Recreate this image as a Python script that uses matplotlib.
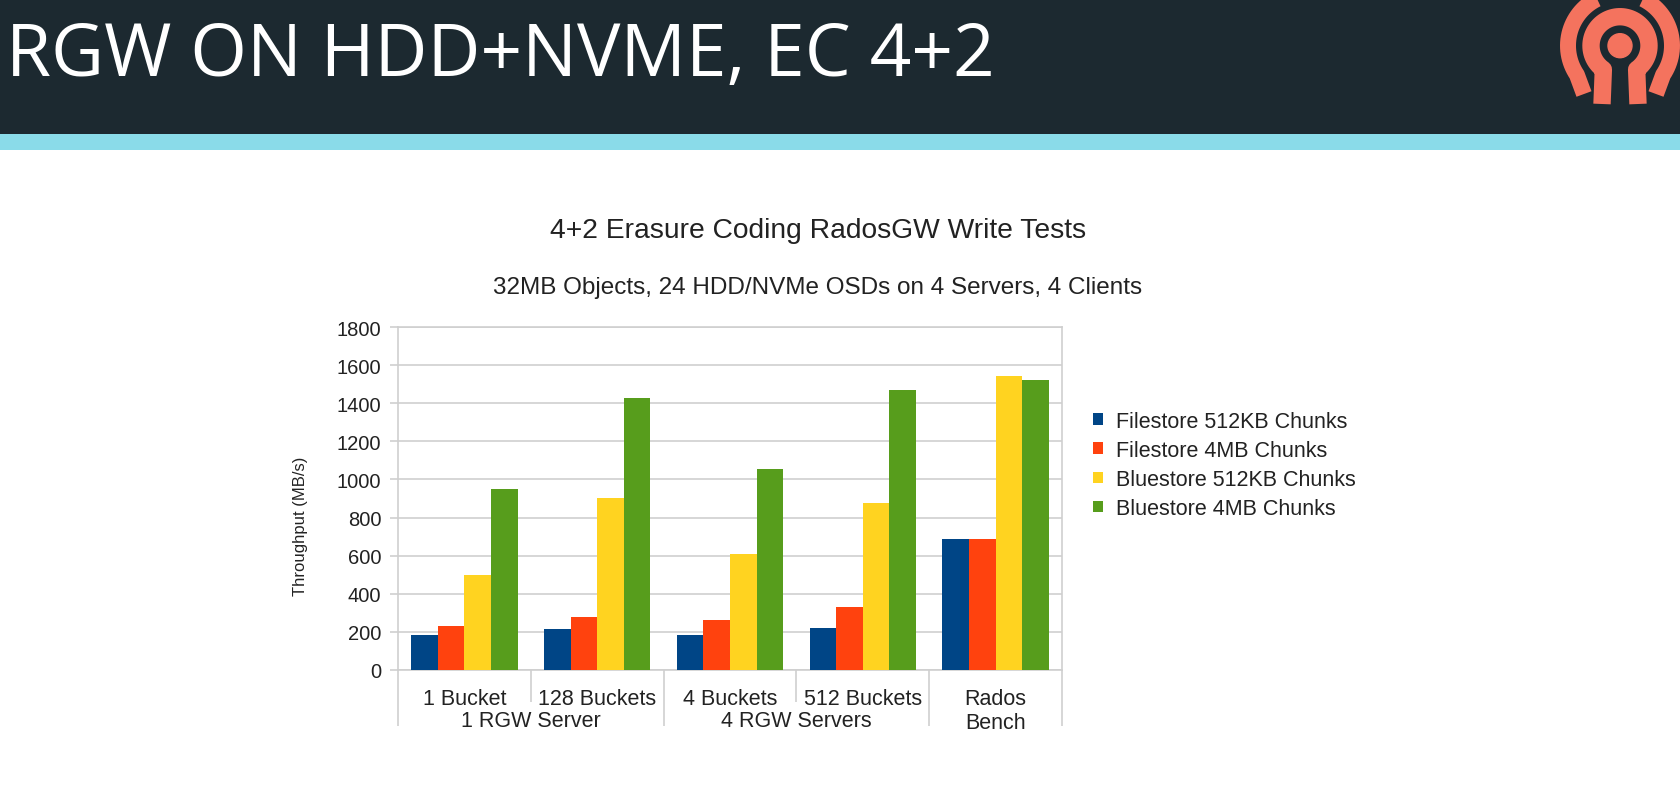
import numpy as np
import matplotlib
matplotlib.use("Agg")
import matplotlib.pyplot as plt
from matplotlib.patches import Rectangle

# dados
categories = ["1 Bucket", "128 Buckets", "4 Buckets", "512 Buckets", "Rados\nBench"]
group_labels = ["1 RGW Server", "4 RGW Servers", ""]
group_sizes = [2, 2, 1]

series_names = ["Filestore 512KB Chunks", "Filestore 4MB Chunks",
                "Bluestore 512KB Chunks", "Bluestore 4MB Chunks"]
filestore_512k = [182, 214, 182, 222, 690]
filestore_4m = [231, 279, 261, 328, 690]
bluestore_512k = [500, 904, 608, 875, 1542]
bluestore_4m = [950, 1428, 1055, 1467, 1524]
colors = ["#004586", "#ff420e", "#ffd320", "#579d1c"]

y_ticks = list(range(0, 1801, 200))

W, H = 1680, 804
fig = plt.figure(figsize=(W / 100, H / 100), dpi=100)
fig.patch.set_facecolor("white")

def fx(px):
    return px / W

def fy(py):
    return (H - py) / H

# cabecalho do slide
fig.add_artist(Rectangle((0, fy(135)), 1, 135 / H, transform=fig.transFigure,
                         facecolor="#1c2930", edgecolor="none", zorder=0))
fig.add_artist(Rectangle((0, fy(151)), 1, 16 / H, transform=fig.transFigure,
                         facecolor="#8adbe9", edgecolor="none", zorder=0))
fig.text(fx(6), fy(76), "RGW ON HDD+NVME, EC 4+2", family="Open Sans",
         fontsize=52.5, color="white", va="baseline", ha="left", zorder=2)

# logo
lg = fig.add_axes([fx(1540), fy(135), fx(140), 135 / H])
lg.set_xlim(1540, 1680)
lg.set_ylim(135, 0)
lg.axis("off")
salmon = "#f4735e"
cx, cy = 1620, 46.7
lg.add_patch(plt.Circle((cx, cy), 12, color=salmon))
t = np.radians(np.linspace(235, -55, 80))
xs = np.concatenate([[cx - 18], cx + 29 * np.cos(t), [cx + 18]])
ys = np.concatenate([[105], cy - 29 * np.sin(t), [105]])
lg.plot(xs, ys, color=salmon, lw=12.5, solid_capstyle="butt")
t = np.radians(np.linspace(214, -34, 80))
xs = np.concatenate([[cx - 36], cx + 52 * np.cos(t), [cx + 36]])
ys = np.concatenate([[95], cy - 52 * np.sin(t), [95]])
lg.plot(xs, ys, color=salmon, lw=11.5, solid_capstyle="butt")

# grafico
plt.rcParams["font.family"] = ["Liberation Sans", "DejaVu Sans"]
ax = fig.add_axes([fx(398), fy(671), fx(1062) - fx(398), fy(328) - fy(671)])

x = np.arange(len(categories))
bw = 0.2
all_series = [filestore_512k, filestore_4m, bluestore_512k, bluestore_4m]
for i, (vals, name, c) in enumerate(zip(all_series, series_names, colors)):
    ax.bar(x + (i - 1.5) * bw, vals, bw, color=c, label=name, zorder=3)

ax.set_xlim(-0.5, len(categories) - 0.5)
ax.set_ylim(0, 1800)
ax.set_yticks(y_ticks)
ax.grid(axis="y", color="#cfcfcf", lw=1.2, zorder=0)
for s in ax.spines.values():
    s.set_color("#cfcfcf")
    s.set_linewidth(1.2)
ax.tick_params(axis="y", length=6, color="#cfcfcf", width=1.2, pad=6,
               labelsize=14.5, labelcolor="#222222")

ax.set_xticks(x, categories)
ax.tick_params(axis="x", which="major", length=0, pad=13, labelsize=15.5,
               labelcolor="#222222")
ax.get_xticklabels()[-1].set_linespacing(1.18)

# separadores entre categorias (curtos) e entre grupos (longos)
bounds = np.concatenate([[0], np.cumsum(group_sizes)]) - 0.5
inner = [b for b in np.arange(0.5, len(categories) - 0.5) if b not in bounds]
ax.set_xticks(inner, minor=True)
ax.tick_params(axis="x", which="minor", length=23, width=1.2, color="#cfcfcf")

sec = ax.secondary_xaxis("bottom")
sec.spines["bottom"].set_visible(False)
sec.set_xticks(bounds, [""] * len(bounds))
sec.tick_params(axis="x", which="major", length=40, width=1.2, color="#cfcfcf")
centers = (bounds[:-1] + bounds[1:]) / 2
sec.set_xticks(centers, group_labels, minor=True)
sec.tick_params(axis="x", which="minor", length=0, pad=29, labelsize=15.5,
                labelcolor="#222222")

ax.text((300 - 398) / (1062 - 398), (671 - 526) / (671 - 328),
        "Throughput (MB/s)", transform=ax.transAxes, rotation=90,
        ha="center", va="center", fontsize=12, color="#222222")

fig.text(fx(818), fy(238), "4+2 Erasure Coding RadosGW Write Tests",
         ha="center", va="baseline", fontsize=20.3, color="#222222")
fig.text(fx(818), fy(294), "32MB Objects, 24 HDD/NVMe OSDs on 4 Servers, 4 Clients",
         ha="center", va="baseline", fontsize=17.5, color="#222222")

ax.legend(loc="center left", bbox_to_anchor=(fx(1093), fy(466)),
          bbox_transform=fig.transFigure, frameon=False, fontsize=15.5,
          handlelength=0.45, handleheight=0.45, handletextpad=0.6,
          labelspacing=0.38, borderpad=0, borderaxespad=0)
for t in ax.get_legend().get_texts():
    t.set_color("#222222")

fig.savefig("out.png", dpi=100)
